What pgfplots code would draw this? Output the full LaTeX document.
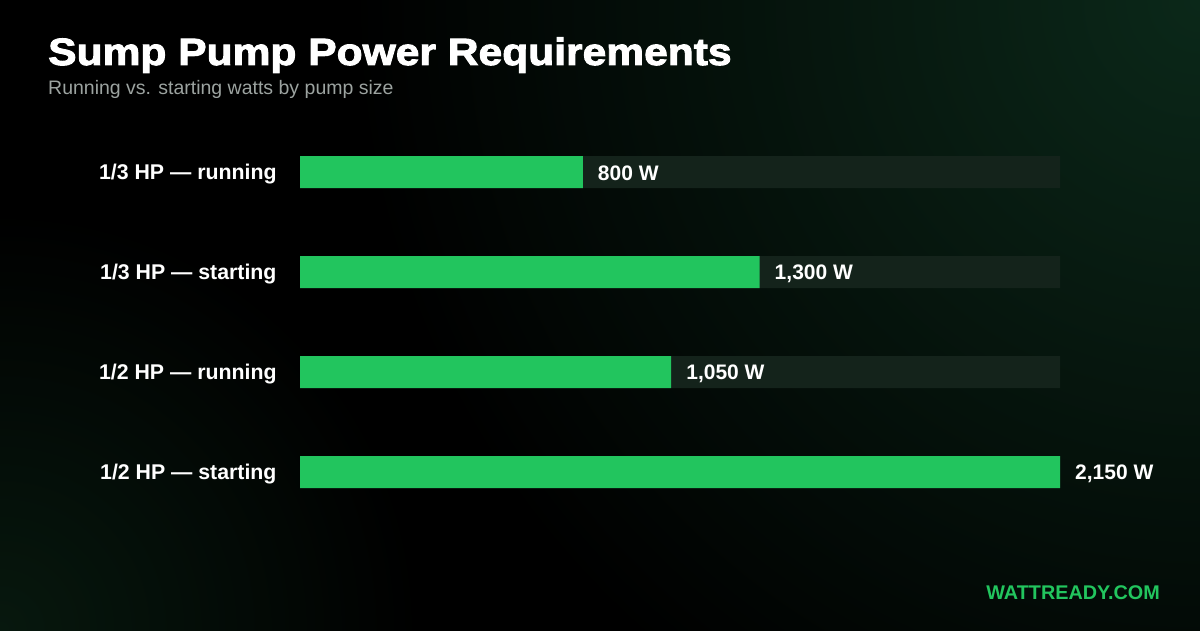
\documentclass[border=0pt]{standalone}
\usepackage{pgfplots}
\pgfplotsset{compat=1.18}
\usepackage{fontspec}
\setmainfont{Liberation Sans}
\newfontfamily\titlefont[FakeStretch=1.12,FakeBold=2.5]{Liberation Sans Bold}

\definecolor{bargreen}{RGB}{34,197,94}
\definecolor{track}{RGB}{20,35,27}
\definecolor{subgray}{RGB}{156,163,160}
\definecolor{glow}{RGB}{11,40,25}
\definecolor{glowlow}{RGB}{7,24,14}

\begin{document}
\begin{tikzpicture}[x=1pt,y=1pt]
\useasboundingbox (0,0) rectangle (1200,630);
% background
\fill[black] (-3,-3) rectangle (1203,633);
\begin{scope}
  \clip (-3,-3) rectangle (1203,633);
  \shade[inner color=glowlow, outer color=black] (0,0) circle (420);
  \begin{scope}[blend mode=screen]
    \shade[inner color=glow, outer color=black] (1200,630) circle (850);
  \end{scope}
\end{scope}

% titles
\node[anchor=base west, inner sep=0pt, text=white] at (48,565)
  {\titlefont\fontsize{38}{44}\selectfont Sump Pump Power Requirements};
\node[anchor=base west, inner sep=0pt, text=subgray] at (48,535)
  {\fontsize{19.5}{23}\selectfont Running vs. starting watts by pump size};

\begin{axis}[
    at={(300pt,108pt)}, anchor=south west,
    scale only axis,
    width=760pt, height=400pt,
    xmin=0, xmax=2150,
    ymin=-0.5, ymax=3.5,
    y dir=reverse,
    xbar, bar width=32pt, bar shift=0pt,
    clip=false,
    axis line style={draw=none},
    tick style={draw=none},
    xtick=\empty,
    ytick={0,1,2,3},
    yticklabels={1/3 HP — running, 1/3 HP — starting, 1/2 HP — running, 1/2 HP — starting},
    yticklabel style={anchor=east, inner sep=0pt, xshift=-19pt, yshift=-2pt,
      text=white, font=\bfseries\fontsize{21.3}{25}\selectfont},
    /pgf/number format/assume math mode=true,
]
% full-scale track behind each bar
\addplot[fill=track, draw=none] coordinates {(2150,0) (2150,1) (2150,2) (2150,3)};
% watts
\addplot[fill=bargreen, draw=none,
    nodes near coords={\pgfmathprintnumber[fixed,precision=0,1000 sep={,}]{\pgfplotspointmeta}~W},
    nodes near coords style={anchor=west, inner sep=0pt, xshift=15pt, yshift=-1.5pt,
      text=white, font=\bfseries\fontsize{21}{25}\selectfont},
  ] coordinates {(800,0) (1300,1) (1050,2) (2150,3)};
\end{axis}

% footer
\node[anchor=base east, inner sep=0pt, text=bargreen] at (1160,31)
  {\bfseries\fontsize{19.8}{23}\selectfont WATTREADY.COM};
\end{tikzpicture}
\end{document}
